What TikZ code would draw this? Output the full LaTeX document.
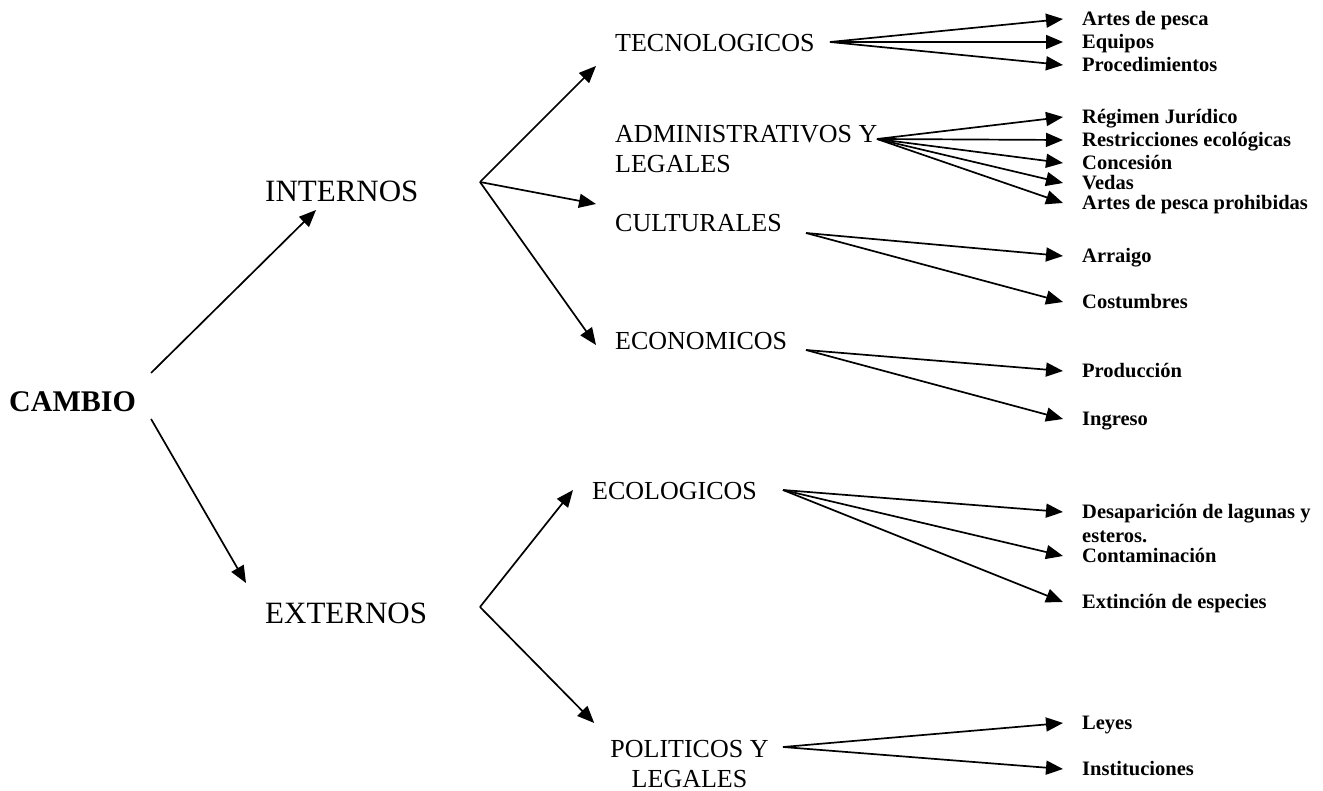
\documentclass[tikz,border=0pt]{standalone}
\usepackage{fontspec}
\setmainfont{Liberation Serif}
\usetikzlibrary{arrows.meta, positioning}

\begin{document}
\begin{tikzpicture}[
    x=1pt, y=-1pt,
    root/.style={font=\bfseries\fontsize{30}{34}\selectfont, inner sep=0pt, anchor=base west},
    side/.style={font=\fontsize{31}{36}\selectfont, inner sep=0pt, anchor=base west},
    factor/.style={font=\fontsize{26}{30}\selectfont, inner sep=0pt, anchor=base west},
    leaf/.style={font=\bfseries\fontsize{20.5}{24.5}\selectfont, inner sep=0pt, anchor=west, text height=15pt, text depth=2pt},
    leafpar/.style={font=\bfseries\fontsize{20.5}{24.5}\selectfont, inner sep=0pt, anchor=north west, align=left},
    arrow/.style={-{Triangle[length=17pt, width=14pt]}, line width=1.7pt}
]
\useasboundingbox (0,0) rectangle (1323,791);

% Root
\node[root] (cambio) at (9,412) {CAMBIO};

% Internal / external
\node[side] (internos) at (265,202) {INTERNOS};
\node[side] (externos) at (265,623) {EXTERNOS};
\coordinate (intB) at (480,182);
\coordinate (extB) at (480,607);

% Factors
\node[factor] (tec) at (615,52) {TECNOLOGICOS};
\node[factor, anchor=north west, align=left] (adm) at (615,125) {ADMINISTRATIVOS Y\\LEGALES};
\node[factor] (cul) at (615,232) {CULTURALES};
\node[factor] (eco) at (615,350) {ECONOMICOS};
\node[factor] (ecol) at (592,500) {ECOLOGICOS};
\node[factor, anchor=north, align=center] (pol) at (689.5,740) {POLITICOS Y\\LEGALES};

\coordinate (tecB) at (830,42);
\coordinate (admB) at (877,139);
\coordinate (culB) at (806,233);
\coordinate (ecoB) at (806,350);
\coordinate (ecolB) at (783,490);
\coordinate (polB) at (783,747);

% Leaves
\node[leaf] (tec1) at (1082,19) {Artes de pesca};
\node[leaf] (tec2) at (1082,42) {Equipos};
\node[leaf] (tec3) at (1082,65) {Procedimientos};

\node[leaf] (adm1) at (1082,117) {Régimen Jurídico};
\node[leaf] (adm2) at (1082,140) {Restricciones ecológicas};
\node[leaf] (adm3) at (1082,163) {Concesión};
\node[leaf] (adm4) at (1082,183) {Vedas};
\node[leaf] (adm5) at (1082,203) {Artes de pesca prohibidas};

\node[leaf] (cul1) at (1082,256) {Arraigo};
\node[leaf] (cul2) at (1082,302) {Costumbres};

\node[leaf] (eco1) at (1082,371) {Producción};
\node[leaf] (eco2) at (1082,419) {Ingreso};

\node[leafpar] (ecol1) at (1082,504) {Desaparición de lagunas y\\esteros.};
\node[leaf] (ecol2) at (1082,556) {Contaminación};
\node[leaf] (ecol3) at (1082,602) {Extinción de especies};

\node[leaf] (pol1) at (1082,723) {Leyes};
\node[leaf] (pol2) at (1082,769) {Instituciones};

% Arrow Connections
\draw[arrow] ([shift={(15,-19)}]cambio.north east) -- ([shift={(51,8)}]internos.base west);
\draw[arrow] ([shift={(15,7)}]cambio.base east) -- ([shift={(-19,-40)}]externos.base west);

\draw[arrow] (intB) -- ([shift={(-19,14)}]tec.base west);
\draw[arrow] (intB) -- ([shift={(-19,-28)}]cul.base west);
\draw[arrow] (intB) -- ([shift={(-19,-5)}]eco.base west);
\draw[arrow] (extB) -- ([shift={(-19,-10)}]ecol.base west);
\draw[arrow] (extB) -- ([shift={(-16,-17)}]pol.north west);

\draw[arrow] (tecB) -- ([xshift=-19pt]tec1.west);
\draw[arrow] (tecB) -- ([xshift=-19pt]tec2.west);
\draw[arrow] (tecB) -- ([xshift=-19pt]tec3.west);

\draw[arrow] (admB) -- ([xshift=-19pt]adm1.west);
\draw[arrow] (admB) -- ([xshift=-19pt]adm2.west);
\draw[arrow] (admB) -- ([xshift=-19pt]adm3.west);
\draw[arrow] (admB) -- ([xshift=-19pt]adm4.west);
\draw[arrow] (admB) -- ([xshift=-19pt]adm5.west);

\draw[arrow] (culB) -- ([xshift=-19pt]cul1.west);
\draw[arrow] (culB) -- ([xshift=-19pt]cul2.west);

\draw[arrow] (ecoB) -- ([xshift=-19pt]eco1.west);
\draw[arrow] (ecoB) -- ([xshift=-19pt]eco2.west);

\draw[arrow] (ecolB) -- ([shift={(-19,8)}]ecol1.north west);
\draw[arrow] (ecolB) -- ([xshift=-19pt]ecol2.west);
\draw[arrow] (ecolB) -- ([xshift=-19pt]ecol3.west);

\draw[arrow] (polB) -- ([xshift=-19pt]pol1.west);
\draw[arrow] (polB) -- ([xshift=-19pt]pol2.west);
\end{tikzpicture}
\end{document}
